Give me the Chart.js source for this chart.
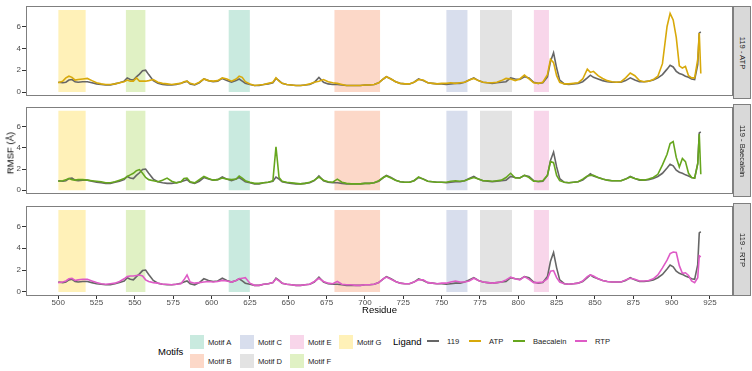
<!DOCTYPE html>
<html>
<head>
<meta charset="utf-8">
<script src="https://cdn.jsdelivr.net/npm/chart.js@4.4.1/dist/chart.umd.min.js"></script>
<style>
html,body{margin:0;padding:0;background:#fff;}
#wrap{position:relative;width:752px;height:371px;overflow:hidden;font-family:"Liberation Sans",Arial,sans-serif;background:#fff;}
#wrap canvas{position:absolute;left:0;}
.strip{position:absolute;background:#d9d9d9;border:1px solid #7f7f7f;box-sizing:border-box;}
.strip span{position:absolute;left:50%;top:50%;transform:translate(-50%,-50%) rotate(90deg);white-space:nowrap;font-size:7.6px;color:#1a1a1a;}
.txt{position:absolute;white-space:nowrap;color:#000;}
.key{position:absolute;}
</style>
</head>
<body>
<div id="wrap"></div>
<script>
// ---------------- data ----------------
const residues = [
 500,503,505,507,509,511,513,516,519,522,
 525,528,531,534,537,540,543,545,547,549,
 551,553,555,557,559,562,565,568,571,574,
 577,580,582,584,586,589,592,595,598,601,
 604,607,610,613,616,618,620,622,625,628,
 631,634,637,640,642,644,646,649,652,655,
 658,661,664,667,670,673,676,679,682,685,
 688,691,694,697,700,703,706,709,712,714,
 717,720,723,726,729,732,735,738,741,744,
 747,750,753,756,759,762,765,768,771,774,
 777,780,783,786,789,792,795,798,801,804,
 807,810,813,816,819,821,823,825,827,830,
 833,836,839,842,845,847,849,852,855,858,
 861,864,867,870,873,876,879,882,885,888,
 891,894,897,899,901,903,905,907,909,911,
 913,915,917,918,919
];
const rmsf119 = [
 0.90,0.85,0.90,1.10,1.15,0.95,0.90,0.95,0.95,0.85,
 0.75,0.70,0.65,0.65,0.75,0.85,1.00,1.30,1.15,1.10,
 1.40,1.65,1.95,2.00,1.60,1.05,0.80,0.70,0.65,0.65,
 0.70,0.80,0.90,1.00,0.75,0.65,0.85,1.20,1.05,0.95,
 1.00,1.25,1.05,0.90,1.05,1.20,1.00,0.80,0.70,0.60,
 0.60,0.70,0.75,0.85,1.25,1.05,0.80,0.70,0.65,0.60,
 0.60,0.65,0.70,0.90,1.35,0.90,0.75,0.70,0.70,0.65,
 0.60,0.60,0.60,0.60,0.65,0.65,0.70,0.85,1.20,1.40,
 1.20,0.95,0.80,0.75,0.75,0.90,1.20,1.05,0.85,0.80,
 0.75,0.75,0.70,0.75,0.80,0.80,0.90,1.10,1.30,1.05,
 0.90,0.85,0.80,0.85,0.90,0.95,1.30,1.20,1.15,1.40,
 1.30,0.90,0.80,0.85,1.40,2.80,3.60,2.20,1.10,0.75,
 0.70,0.75,0.80,0.95,1.30,1.55,1.35,1.20,1.05,0.95,
 0.90,0.90,0.90,1.05,1.30,1.10,0.95,0.95,1.00,1.10,
 1.30,1.60,2.10,2.45,2.30,1.90,1.70,1.60,1.45,1.35,
 1.20,1.15,2.50,5.40,5.50
];
const rmsfATP = [
 0.85,1.00,1.30,1.45,1.35,1.10,1.15,1.20,1.25,1.05,
 0.85,0.75,0.70,0.70,0.75,0.85,0.95,1.10,1.00,1.00,
 1.30,1.00,1.00,1.00,1.05,1.15,0.90,0.80,0.75,0.70,
 0.75,0.80,0.95,1.00,0.80,0.70,0.90,1.20,1.05,1.00,
 1.05,1.30,1.20,1.00,1.20,1.45,1.35,0.95,0.75,0.60,
 0.65,0.70,0.80,0.90,1.30,1.00,0.80,0.70,0.65,0.60,
 0.60,0.65,0.75,0.90,1.00,1.15,0.95,0.85,0.80,0.70,
 0.60,0.60,0.60,0.60,0.65,0.65,0.70,0.85,1.20,1.40,
 1.20,0.95,0.80,0.75,0.75,0.90,1.15,1.10,0.85,0.80,
 0.75,0.80,0.80,0.85,0.80,0.85,0.90,1.10,1.25,1.05,
 0.90,0.85,0.85,0.90,1.05,1.25,1.20,1.05,1.20,1.55,
 1.20,0.85,0.80,0.90,1.60,3.00,2.70,1.50,0.90,0.75,
 0.75,0.80,0.85,1.20,2.10,1.80,1.90,1.50,1.25,1.05,
 0.95,0.90,0.95,1.30,1.75,1.50,1.05,0.95,1.00,1.15,
 1.45,2.60,6.00,7.20,6.60,5.00,2.40,2.20,2.35,1.50,
 1.30,1.30,3.00,5.40,1.70
];
const rmsfBaecalein = [
 0.85,0.90,1.00,1.10,1.00,0.95,1.00,1.00,0.95,0.90,
 0.85,0.80,0.70,0.70,0.80,0.95,1.10,1.30,1.45,1.60,
 1.85,1.95,1.60,1.20,1.00,0.90,0.80,0.95,1.15,0.85,
 0.70,0.80,1.10,1.15,0.80,0.70,1.00,1.30,1.10,0.95,
 1.00,1.15,1.05,1.00,1.05,1.35,1.15,0.90,0.75,0.65,
 0.65,0.70,0.75,0.90,4.10,1.20,0.85,0.75,0.70,0.65,
 0.60,0.65,0.75,0.95,1.25,0.95,0.80,0.75,1.05,0.75,
 0.65,0.60,0.60,0.60,0.65,0.65,0.70,0.90,1.20,1.35,
 1.15,0.95,0.80,0.75,0.75,0.90,1.25,1.05,0.85,0.80,
 0.75,0.75,0.75,0.85,0.90,0.85,0.90,1.05,1.20,1.05,
 0.90,0.90,0.85,0.90,0.95,1.20,1.60,1.15,1.15,1.40,
 1.20,0.85,0.85,0.90,1.40,2.70,2.60,1.40,0.90,0.75,
 0.70,0.75,0.80,1.05,1.35,1.40,1.40,1.20,1.05,0.95,
 0.90,0.90,0.90,1.05,1.25,1.10,1.00,0.95,1.05,1.20,
 1.50,2.40,3.40,4.40,4.60,3.10,2.20,3.00,2.70,1.60,
 1.20,1.15,2.50,5.30,1.50
];
const rmsfRTP = [
 0.85,0.90,1.00,1.20,1.25,1.05,1.10,1.15,1.15,1.00,
 0.85,0.75,0.70,0.75,0.80,0.95,1.20,1.40,1.45,1.45,
 1.50,1.55,1.45,1.10,0.95,0.85,0.80,0.70,0.70,0.65,
 0.70,0.75,1.10,1.55,0.90,0.80,0.85,0.90,0.95,0.90,
 0.95,1.05,1.00,0.90,1.05,1.20,1.25,1.30,0.80,0.60,
 0.60,0.70,0.75,0.85,1.20,1.00,0.80,0.70,0.65,0.60,
 0.60,0.65,0.70,0.95,1.25,0.95,0.80,0.75,0.95,0.70,
 0.65,0.65,0.60,0.60,0.65,0.65,0.70,0.85,1.20,1.35,
 1.15,0.95,0.80,0.75,0.75,0.90,1.10,1.10,0.85,0.80,
 0.75,0.80,0.80,0.90,1.00,0.90,0.90,1.00,1.25,1.05,
 0.90,0.85,0.80,0.85,0.90,1.10,1.35,1.20,1.10,1.40,
 1.15,0.85,0.85,0.90,1.20,1.90,1.95,1.30,0.90,0.75,
 0.70,0.75,0.80,1.00,1.40,1.55,1.45,1.20,1.05,0.95,
 0.90,0.90,0.90,1.10,1.25,1.15,1.00,1.00,1.05,1.20,
 1.55,2.20,2.90,3.50,3.65,3.60,2.40,1.70,1.75,1.50,
 1.00,0.85,1.30,3.30,3.20
];
const motifNames = ['Motif A','Motif B','Motif C','Motif D','Motif E','Motif F','Motif G'];
const motifStart = [611, 680, 753, 775, 810, 544, 500];
const motifEnd   = [625, 710, 767, 796, 820, 557, 518];
const motifTop = 7.5;
const ligandNames = ['119','ATP','Baecalein','RTP'];
const panelLigands = ['ATP','Baecalein','RTP'];
const panelLabels = ['119 - ATP','119 - Baecalein','119 - RTP'];
const xTickValues = [500,525,550,575,600,625,650,675,700,725,750,775,800,825,850,875,900,925];
const yTickValues = [0,2,4,6];

// ---------------- styles ----------------
const FONT = '"Liberation Sans", Arial, sans-serif';
const motifColors = {
 'Motif A':'#C9EADF','Motif B':'#FCD8C8','Motif C':'#D8DEED','Motif D':'#E3E3E3',
 'Motif E':'#F8D6EA','Motif F':'#E0F1C4','Motif G':'#FFF1B8'
};
const ligandColors = {'119':'#666666','ATP':'#D8A90A','Baecalein':'#66A61E','RTP':'#DE5BC6'};
const seriesByLigand = {'119':rmsf119,'ATP':rmsfATP,'Baecalein':rmsfBaecalein,'RTP':rmsfRTP};

Chart.defaults.font.family = FONT;

const panelBorder = {
 id:'panelBorder',
 afterDraw(chart){
  const a = chart.chartArea, ctx = chart.ctx;
  ctx.save();
  ctx.strokeStyle = '#7f7f7f'; ctx.lineWidth = 1;
  ctx.strokeRect(Math.round(a.left)+0.5, Math.round(a.top)+0.5, Math.round(a.right-a.left)-1, Math.round(a.bottom-a.top)-1);
  ctx.restore();
 }
};

const wrap = document.getElementById('wrap');
const toXY = vals => residues.map((r,i)=>({x:r, y:vals[i]}));

const panelGeom = [
 {top:0,   h:102, padTop:6, padBottom:3, showX:false},
 {top:101, h:99,  padTop:3, padBottom:3, showX:false},
 {top:200, h:118, padTop:3, padBottom:0, showX:true}
];

panelGeom.forEach((g, idx) => {
 const canvas = document.createElement('canvas');
 canvas.width = 752; canvas.height = g.h;
 canvas.style.top = g.top + 'px';
 canvas.style.width = '752px'; canvas.style.height = g.h + 'px';
 wrap.appendChild(canvas);
 const lig = panelLigands[idx];
 const datasets = [];
 motifNames.forEach((m, i) => {
  datasets.push({
   data:[{x:motifStart[i], y:motifTop},{x:motifEnd[i], y:motifTop}],
   fill:'origin', backgroundColor:motifColors[m], borderColor:'rgba(0,0,0,0)',
   borderWidth:0, pointRadius:0, order:3
  });
 });
 datasets.push({data:toXY(seriesByLigand['119']), borderColor:ligandColors['119'], borderWidth:1.6, pointRadius:0, fill:false, order:2});
 datasets.push({data:toXY(seriesByLigand[lig]), borderColor:ligandColors[lig], borderWidth:1.6, pointRadius:0, fill:false, order:1});

 new Chart(canvas, {
  type:'line',
  data:{datasets},
  plugins:[panelBorder],
  options:{
   responsive:false, animation:false, devicePixelRatio:1,
   layout:{padding:{left:0, right:19, top:g.padTop, bottom:g.padBottom}},
   plugins:{legend:{display:false}, tooltip:{enabled:false}},
   elements:{line:{tension:0}},
   scales:{
    x:{
     type:'linear', min:479, max:940, display:g.showX,
     afterBuildTicks: s => { s.ticks = xTickValues.map(v=>({value:v})); },
     afterFit: s => { s.height = g.showX ? 22 : 0; },
     ticks:{autoSkip:false, maxRotation:0, minRotation:0, font:{size:8}, color:'#4d4d4d', padding:-1},
     grid:{drawOnChartArea:false, drawTicks:true, tickLength:3, tickColor:'#333333'},
     border:{display:false},
     title:{display:g.showX, text:'Residue', font:{size:9.5}, color:'#000', padding:{top:0, bottom:2}}
    },
    y:{
     type:'linear', min:-0.375, max:7.875,
     afterBuildTicks: s => { s.ticks = yTickValues.map(v=>({value:v})); },
     afterFit: s => { s.width = 26; },
     ticks:{font:{size:8}, color:'#4d4d4d', padding:1},
     grid:{drawOnChartArea:false, drawTicks:true, tickLength:4, tickColor:'#333333'},
     border:{display:false}
    }
   }
  }
 });
});

// strips
const stripGeom = [[6,93],[104,93],[203,93]];
panelLabels.forEach((lab, i) => {
 const d = document.createElement('div');
 d.className = 'strip';
 d.style.left = '733px'; d.style.top = stripGeom[i][0] + 'px';
 d.style.width = '18px'; d.style.height = stripGeom[i][1] + 'px';
 const s = document.createElement('span'); s.textContent = lab; d.appendChild(s);
 wrap.appendChild(d);
});

// y title
const yt = document.createElement('div');
yt.className = 'txt';
yt.textContent = 'RMSF (Å)';
yt.style.fontSize = '9.5px';
yt.style.left = '10px'; yt.style.top = '153px';
yt.style.transform = 'translate(-50%,-50%) rotate(-90deg)';
wrap.appendChild(yt);

function addText(t, x, yc, size, color){
 const d = document.createElement('div');
 d.className = 'txt'; d.textContent = t;
 d.style.fontSize = size + 'px'; d.style.color = color || '#000';
 d.style.left = x + 'px'; d.style.top = yc + 'px';
 d.style.transform = 'translateY(-50%)';
 wrap.appendChild(d);
 return d;
}
// Motifs legend
addText('Motifs', 158, 351, 9.5);
const colX = [190, 240, 290, 339];
const rowY = [342, 361];
motifNames.forEach((m, i) => {
 const col = Math.floor(i / 2), row = i % 2;
 const k = document.createElement('div');
 k.className = 'key';
 k.style.left = colX[col] + 'px'; k.style.top = (rowY[row] - 7) + 'px';
 k.style.width = '14px'; k.style.height = '14px';
 k.style.background = motifColors[m];
 wrap.appendChild(k);
 addText(m, colX[col] + 18, rowY[row], 7.6, '#1a1a1a');
});
// Ligand legend
addText('Ligand', 393, 341, 9.5);
const ligKeyX = [427, 469, 513, 575];
ligandNames.forEach((l, i) => {
 const k = document.createElement('div');
 k.className = 'key';
 k.style.left = ligKeyX[i] + 'px'; k.style.top = '340px';
 k.style.width = '12px'; k.style.height = '2px';
 k.style.background = ligandColors[l];
 wrap.appendChild(k);
 addText(l, ligKeyX[i] + 20, 341, 7.6, '#1a1a1a');
});
</script>
</body>
</html>
